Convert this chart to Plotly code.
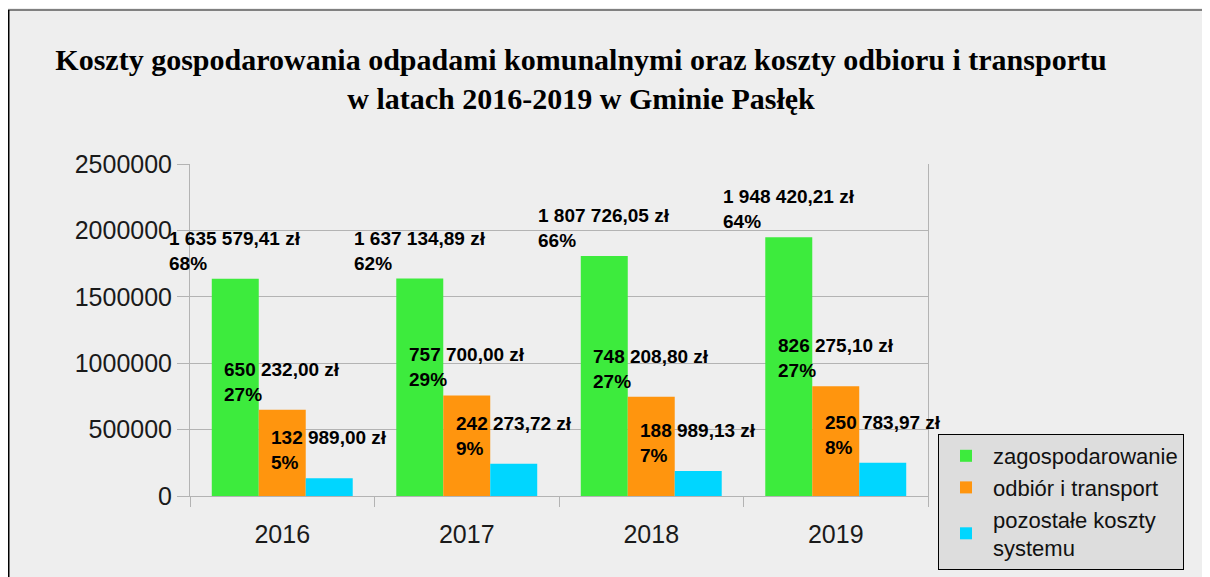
import plotly.graph_objects as go

# ---------------- data ----------------
years = ["2016", "2017", "2018", "2019"]
series_names = ["zagospodarowanie", "odbiór i transport", "pozostałe koszty<br>systemu"]
zagospodarowanie = [1635579.41, 1637134.89, 1807726.05, 1948420.21]
odbior_transport = [650232.00, 757700.00, 748208.80, 826275.10]
pozostale_koszty = [132989.00, 242273.72, 188989.13, 250783.97]
udzial_zagospodarowanie = [68, 62, 66, 64]
udzial_odbior = [27, 29, 27, 27]
udzial_pozostale = [5, 9, 7, 8]
y_ticks = [0, 500000, 1000000, 1500000, 2000000, 2500000]

title_text = ("Koszty gospodarowania odpadami komunalnymi oraz koszty odbioru i transportu"
              "<br>w latach 2016-2019 w Gminie Pasłęk")

# ---------------- styles / layout geometry (figure pixels; page adds 8px body margin) ----
colors = ["#3deb3d", "#ff950e", "#00d6ff"]
W, H = 1202, 569
L, R, T, B = 182, 920, 156, 488
BARGAP = 0.236
bar_px = (R - L) / len(years) * (1 - BARGAP) / 3


def xp(px):
    return (px - L) / (R - L)


def yp(py):
    return (B - py) / (B - T)


def zl(v):
    s = f"{v:,.2f}"
    return s.replace(",", " ").replace(".", ",") + " zł"


values = [zagospodarowanie, odbior_transport, pozostale_koszty]
shares = [udzial_zagospodarowanie, udzial_odbior, udzial_pozostale]

fig = go.Figure()
for i, (name, vals) in enumerate(zip(series_names, values)):
    fig.add_trace(go.Bar(
        x=years, y=vals, name=name,
        marker=dict(color=colors[i], line=dict(width=0)),
    ))

annotations = []
for i, (vals, sh) in enumerate(zip(values, shares)):
    for j, (v, s) in enumerate(zip(vals, sh)):
        annotations.append(dict(
            x=j, y=v, xref="x", yref="y",
            text=f"{zl(v)}<br>{s}%",
            showarrow=False, xanchor="center", yanchor="bottom", align="left",
            xshift=(i - 1) * bar_px, yshift=3,
            font=dict(family="Liberation Sans, Arial", size=19, color="#000000", weight="bold"),
        ))

shapes = [
    dict(type="line", xref="paper", yref="paper",
         x0=xp(0), x1=xp(W + 10), y0=yp(2), y1=yp(2),
         line=dict(color="#808080", width=2)),
    dict(type="line", xref="paper", yref="paper",
         x0=xp(0.75), x1=xp(0.75), y0=yp(2), y1=yp(H + 10),
         line=dict(color="#000000", width=1.5)),
]

fig.update_layout(
    width=W, height=H, autosize=False,
    margin=dict(l=L, r=W - R, t=T, b=H - B, pad=0, autoexpand=False),
    paper_bgcolor="#eeeeee", plot_bgcolor="#eeeeee",
    barmode="group", bargap=BARGAP, bargroupgap=0,
    title=dict(text=title_text, x=573 / W, xref="container", xanchor="center",
               y=1 - 62 / H, yref="container", yanchor="top",
               font=dict(family="Liberation Serif, Times New Roman", size=30,
                         color="#000000", weight="bold")),
    xaxis=dict(type="category", range=[-0.5, len(years) - 0.5], autorange=False,
               tickson="boundaries", ticks="outside", ticklen=10, automargin=False,
               tickcolor="#b3b3b3", showline=True, linecolor="#b3b3b3", linewidth=1,
               showgrid=False, ticklabelstandoff=16, tickangle=0,
               tickfont=dict(family="Liberation Sans, Arial", size=25, color="#1a1a1a")),
    yaxis=dict(range=[0, 2500000], autorange=False, tickvals=y_ticks, tickformat="d",
               ticks="outside", automargin=False,
               ticklen=12, tickcolor="#b3b3b3", showline=True, linecolor="#b3b3b3",
               linewidth=1, mirror=True, showgrid=True, gridcolor="#b3b3b3", gridwidth=1,
               zeroline=False, ticklabelstandoff=0,
               tickfont=dict(family="Liberation Sans, Arial", size=25, color="#1a1a1a")),
    legend=dict(x=xp(930), y=yp(426), xanchor="left", yanchor="top",
                bgcolor="#dddddd", bordercolor="#000000", borderwidth=1,
                font=dict(family="Liberation Sans, Arial", size=22, color="#111111"),
                tracegroupgap=0, itemwidth=44),
    annotations=annotations,
    shapes=shapes,
    showlegend=True,
)

fig.write_html("out.html")
